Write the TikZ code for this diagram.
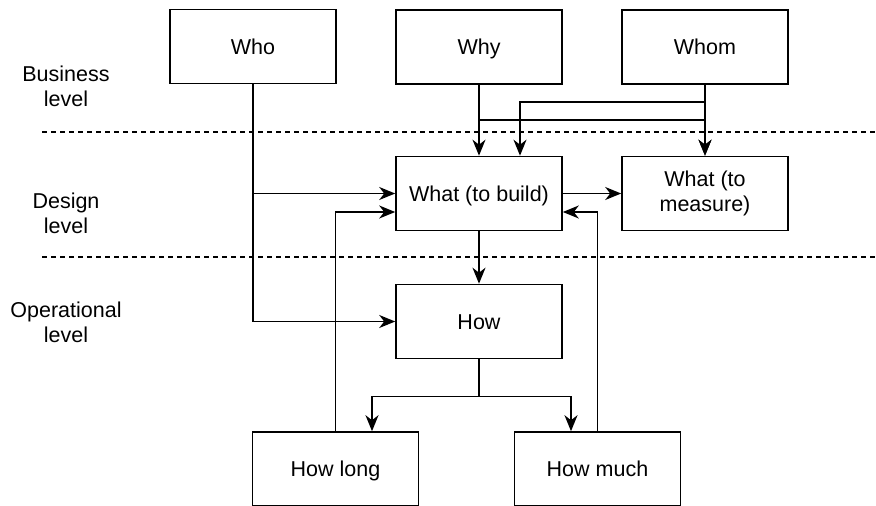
\documentclass[tikz,border=0pt]{standalone}
\usepackage{fontspec}
\setmainfont{Liberation Sans}
\usetikzlibrary{arrows.meta}
\tikzset{block/.style={rectangle, draw, line width=1.6pt, minimum width=166pt, minimum height=74pt, inner sep=0pt, align=center, text height=16pt, text depth=0.6pt, font=\fontsize{21.5}{25}\selectfont}}
\tikzset{twoline/.style={text height=, text depth=}}
\tikzset{conn/.style={line width=1.6pt, -{Stealth[length=16pt,width=13pt,inset=5pt]}}}
\tikzset{levelsep/.style={line width=1.6pt, dash pattern=on 5pt off 4pt}}
\tikzset{levellabel/.style={align=center, font=\fontsize{21.5}{25}\selectfont}}

\begin{document}
\begin{tikzpicture}[x=1pt, y=-1pt]

    \useasboundingbox (0,0) rectangle (876,506);

    % level separators
    \coordinate (sepa) at (42,132);
    \coordinate (sepb) at (42,257);
    \draw[levelsep] (sepa) -- ++(834,0);
    \draw[levelsep] (sepb) -- ++(834,0);

    \node[levellabel] (business) at (66,86)  {Business\\level};
    \node[levellabel] (design)   at (66,213) {Design\\level};
    \node[levellabel] (oper)     at (66,322) {Operational\\level};

    % boxes
    \node[block] (who)      at (253,46.5)  {Who};
    \node[block] (why)      at (479,47)    {Why};
    \node[block] (whom)     at (705,47)    {Whom};
    \node[block] (build)    at (479,193.5) {What (to build)};
    \node[block, twoline] (measure) at (705,193.5) {What (to\\measure)};
    \node[block] (how)      at (479,321.5) {How};
    \node[block] (howlong)  at (335.5,469) {How long};
    \node[block] (howmuch)  at (597.5,469) {How much};

    % connectors
    \draw[conn] (why.south) -- (build.north);
    \draw[conn] (why.south) -- ++(0,35) -| (measure.north);
    \draw[conn] (whom.south) -- (measure.north);
    \draw[conn] (whom.south) -- ++(0,17) -| ([xshift=41pt]build.north);
    \draw[conn] (who.south) |- (build.west);
    \draw[conn] (who.south) |- (how.west);
    \draw[conn] (build.east) -- (measure.west);
    \draw[conn] (build.south) -- (how.north);
    \draw[conn] (how.south) -- ++(0,37) -| ([xshift=36.5pt]howlong.north);
    \draw[conn] (how.south) -- ++(0,37) -| ([xshift=-26.5pt]howmuch.north);
    \draw[conn] (howlong.north) |- ([yshift=-18.5pt]build.west);
    \draw[conn] (howmuch.north) |- ([yshift=-18.5pt]build.east);

\end{tikzpicture}
\end{document}
